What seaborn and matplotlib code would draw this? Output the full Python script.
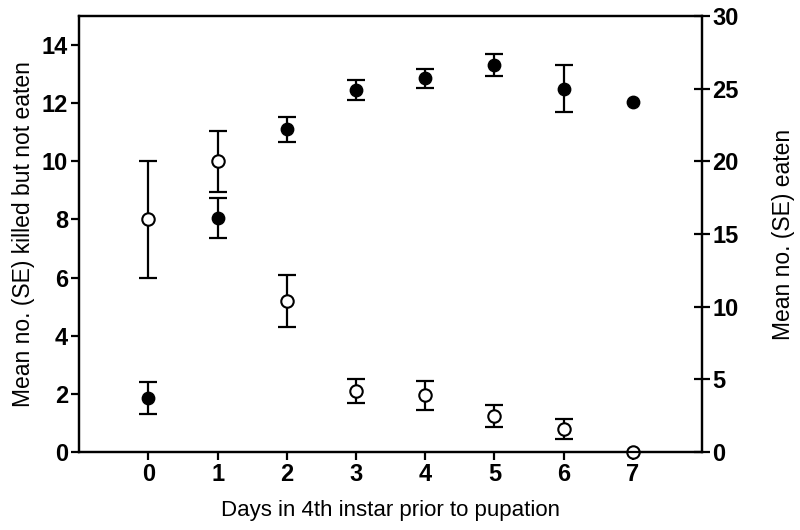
import matplotlib
matplotlib.use("Agg")
import matplotlib.pyplot as plt
import seaborn as sns
import pandas as pd
import numpy as np

days = [0, 1, 2, 3, 4, 5, 6, 7]
killed_mean = [8.0, 10.0, 5.2, 2.1, 1.95, 1.25, 0.8, 0.0]
killed_se = [2.0, 1.05, 0.9, 0.42, 0.5, 0.37, 0.35, 0.0]
eaten_mean = [3.7, 16.1, 22.2, 24.9, 25.7, 26.6, 25.0, 24.1]
eaten_se = [1.1, 1.4, 0.85, 0.7, 0.65, 0.75, 1.6, 0.0]

xticks = [0, 1, 2, 3, 4, 5, 6, 7]
left_ticks = [0, 2, 4, 6, 8, 10, 12, 14]
right_ticks = [0, 5, 10, 15, 20, 25, 30]

sns.set_style("ticks")
plt.rcParams['font.family'] = ['Liberation Sans', 'DejaVu Sans']
plt.rcParams.update({'text.color': 'black', 'axes.labelcolor': 'black',
                     'xtick.color': 'black', 'ytick.color': 'black'})

df_k = pd.DataFrame({"day": days, "mean": killed_mean, "se": killed_se})
df_e = pd.DataFrame({"day": days, "mean": eaten_mean, "se": eaten_se})

fig = plt.figure(figsize=(8, 5.3), dpi=100)
ax = fig.add_axes([0.099, 0.147, 0.7785, 0.823])
ax2 = ax.twinx()

lw = 1.6
ke = df_k[df_k["se"] > 0]
ax.errorbar(ke["day"], ke["mean"], yerr=ke["se"], fmt='none', ecolor='black',
            elinewidth=lw, capsize=6.5, capthick=lw, zorder=2)
ee = df_e[df_e["se"] > 0]
ax2.errorbar(ee["day"], ee["mean"], yerr=ee["se"], fmt='none', ecolor='black',
             elinewidth=lw, capsize=6.5, capthick=lw, zorder=2)

sns.scatterplot(data=df_k, x="day", y="mean", ax=ax, marker='o', s=80,
                facecolor='white', edgecolor='black', linewidth=1.5, zorder=5,
                clip_on=False)
sns.scatterplot(data=df_e, x="day", y="mean", ax=ax2, marker='o', s=80,
                color='black', edgecolor='black', linewidth=1.0, zorder=5,
                clip_on=False)

ax.set_xlim(-1, 8)
ax.set_ylim(0, 15)
ax2.set_ylim(0, 30)
ax.set_xticks(xticks)
ax.set_yticks(left_ticks)
ax2.set_yticks(right_ticks)

tick_font = dict(fontsize=17, fontweight='bold')
ax.set_xticklabels([str(t) for t in xticks], **tick_font)
ax.set_yticklabels([str(t) for t in left_ticks], **tick_font)
ax2.set_yticklabels([str(t) for t in right_ticks], **tick_font)

ax.set_xlabel("Days in 4th instar prior to pupation", fontsize=16, labelpad=10)
ax.set_ylabel("Mean no. (SE) killed but not eaten", fontsize=16.5, labelpad=5)
ax2.set_ylabel("Mean no. (SE) eaten", fontsize=16.5, labelpad=24)

for a in (ax, ax2):
    for s in a.spines.values():
        s.set_visible(True)
        s.set_linewidth(lw)
        s.set_color('black')
ax.tick_params(axis='both', direction='out', length=6, width=lw, pad=2)
ax2.tick_params(axis='y', direction='inout', length=11, width=lw, pad=2)
ax.grid(False)
ax2.grid(False)

fig.savefig("out.png", dpi=100)
